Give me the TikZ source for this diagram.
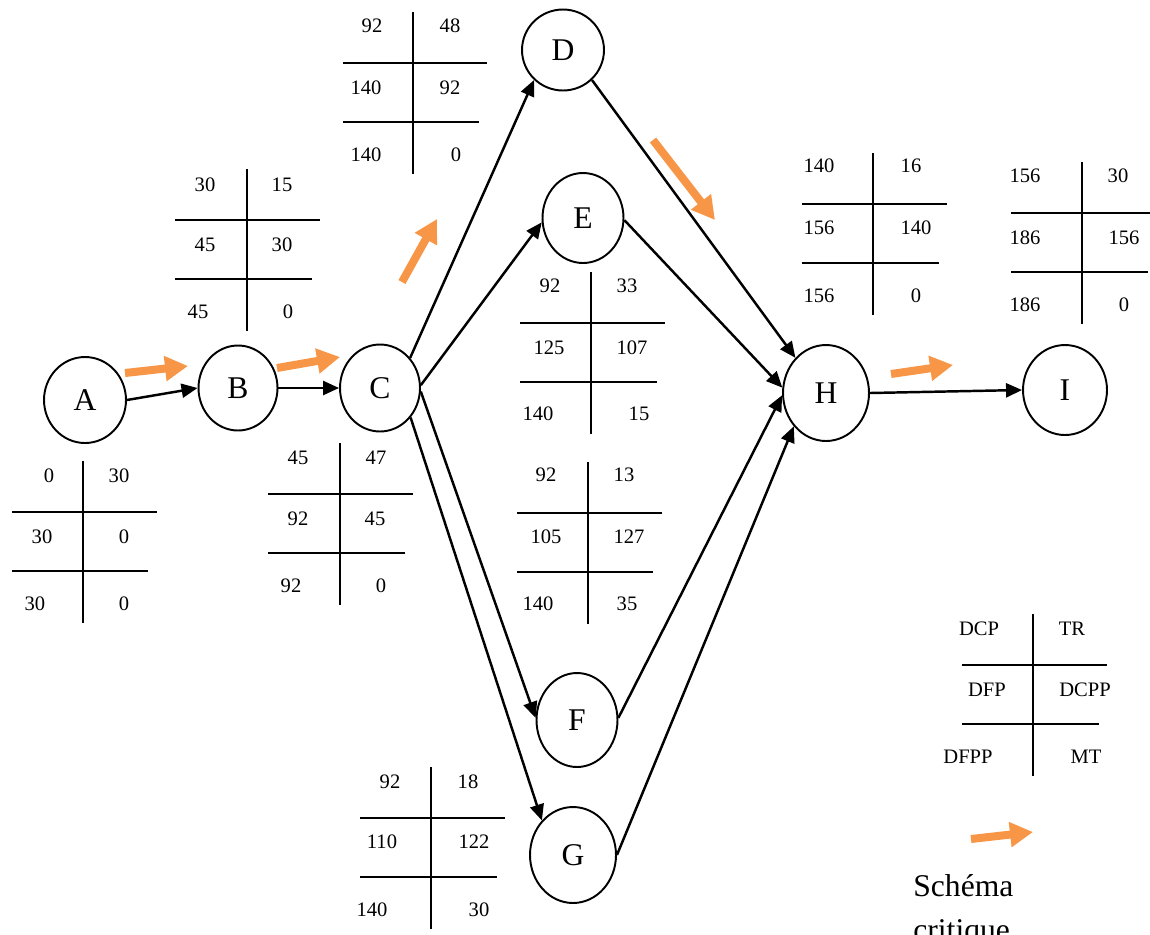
\documentclass[tikz,border=0pt]{standalone}
\usepackage{fontspec}
\setmainfont{Liberation Serif}
\usetikzlibrary{arrows.meta,shapes.geometric}
\definecolor{critorange}{RGB}{247,150,70}

% one CPM grid: vertical line at x=#1 starting at y=#2, horizontal lines from x=#3 to #4 and #5
\newcommand\grille[5]{%
  \draw[trait] (#1,#2) -- (#1,#2+162);
  \draw[trait] (#3,#2+51) -- (#4,#2+51);
  \draw[trait] (#3,#2+110) -- (#5,#2+110);
}

\begin{document}
\begin{tikzpicture}[x=0.02cm,y=-0.02cm,
  etat/.style={ellipse,draw,line width=1.1pt,inner sep=0pt,
    font=\fontsize{18}{20}\selectfont},
  lien/.style={line width=1.4pt,-{Triangle[length=0.32cm,width=0.28cm]}},
  crit/.style={critorange,line width=0.16cm,-{Triangle[length=0.46cm,width=0.48cm]}},
  trait/.style={line width=1.1pt},
  val/.style={inner sep=0pt,font=\fontsize{11.7}{14}\selectfont},
  legende/.style={inner sep=0pt,font=\fontsize{18}{20}\selectfont}]
\useasboundingbox (0,0) rectangle (1150,934);

% events
\node[etat,minimum width=1.64cm,minimum height=1.72cm] (A) at (85,400) {A};
\node[etat,minimum width=1.58cm,minimum height=1.70cm] (B) at (238,388) {B};
\node[etat,minimum width=1.60cm,minimum height=1.74cm] (C) at (380,388) {C};
\node[etat,minimum width=1.64cm,minimum height=1.62cm] (D) at (563,50) {D};
\node[etat,minimum width=1.62cm,minimum height=1.80cm] (E) at (583,218) {E};
\node[etat,minimum width=1.62cm,minimum height=1.88cm] (F) at (577,720) {F};
\node[etat,minimum width=1.72cm,minimum height=1.92cm] (G) at (573,855) {G};
\node[etat,minimum width=1.72cm,minimum height=1.92cm] (H) at (826,393) {H};
\node[etat,minimum width=1.68cm,minimum height=1.80cm] (I) at (1065,390) {I};

% activities
\draw[lien] (A.east) -- (B.west);
\draw[lien] (B.east) -- (C.west);
\draw[lien] (C.45) -- (D.226);
\draw[lien] (C.4) -- (E.186);
\draw[lien] (C.355) -- (F.177);
\draw[lien] (C.316) -- (G.132);
\draw[lien] (D.314) -- (H.131);
\draw[lien] (E.357) -- (H.173);
\draw[lien] (F.3) -- (H.183);
\draw[lien] (G.0) -- (H.226);
\draw[lien] (H.east) -- (I.west);

% critical path markers
\coordinate (c1a) at (125,373); \coordinate (c1b) at (188,366);
\coordinate (c2a) at (277,368); \coordinate (c2b) at (340,357);
\coordinate (c3a) at (402,282); \coordinate (c3b) at (437,219);
\coordinate (c4a) at (653,140); \coordinate (c4b) at (715,220);
\coordinate (c5a) at (891,374); \coordinate (c5b) at (953,365);
\coordinate (c6a) at (971,839); \coordinate (c6b) at (1033,832);
\draw[crit] (c1a) -- (c1b);
\draw[crit] (c2a) -- (c2b);
\draw[crit] (c3a) -- (c3b);
\draw[crit] (c4a) -- (c4b);
\draw[crit] (c5a) -- (c5b);
\draw[crit] (c6a) -- (c6b);

% grid of A
\grille{83}{461}{12}{157}{148}
\node[val] (a1) at (49,476) {0};
\node[val] (a2) at (119,476) {30};
\node[val] (a3) at (42,537) {30};
\node[val] (a4) at (124,537) {0};
\node[val] (a5) at (35,604) {30};
\node[val] (a6) at (124,604) {0};

% grid of B
\grille{247}{169}{175}{320}{312}
\node[val] (b1) at (205,185) {30};
\node[val] (b2) at (282,185) {15};
\node[val] (b3) at (205,245) {45};
\node[val] (b4) at (282,245) {30};
\node[val] (b5) at (198,312) {45};
\node[val] (b6) at (288,312) {0};

% grid of C
\grille{340}{443}{268}{413}{405}
\node[val] (cc1) at (298,458) {45};
\node[val] (cc2) at (376,458) {47};
\node[val] (cc3) at (298,519) {92};
\node[val] (cc4) at (375,519) {45};
\node[val] (cc5) at (291,586) {92};
\node[val] (cc6) at (381,586) {0};

% grid of D
\grille{413}{12}{343}{487}{479}
\node[val] (d1) at (372,26) {92};
\node[val] (d2) at (450,26) {48};
\node[val] (d3) at (366,88) {140};
\node[val] (d4) at (450,88) {92};
\node[val] (d5) at (366,155) {140};
\node[val] (d6) at (456,155) {0};

% grid of E
\grille{591}{272}{520}{665}{657}
\node[val] (e1) at (550,286) {92};
\node[val] (e2) at (627,286) {33};
\node[val] (e3) at (549,348) {125};
\node[val] (e4) at (632,348) {107};
\node[val] (e5) at (538,414) {140};
\node[val] (e6) at (639,414) {15};

% grid of F
\grille{588}{462}{517}{662}{653}
\node[val] (f1) at (546,475) {92};
\node[val] (f2) at (624,475) {13};
\node[val] (f3) at (546,537) {105};
\node[val] (f4) at (629,537) {127};
\node[val] (f5) at (538,604) {140};
\node[val] (f6) at (627,604) {35};

% grid of G
\grille{431}{767}{360}{505}{497}
\node[val] (g1) at (390,782) {92};
\node[val] (g2) at (468,782) {18};
\node[val] (g3) at (382,842) {110};
\node[val] (g4) at (474,842) {122};
\node[val] (g5) at (372,910) {140};
\node[val] (g6) at (479,910) {30};

% grid of H
\grille{873}{153}{802}{947}{939}
\node[val] (h1) at (819,166) {140};
\node[val] (h2) at (911,166) {16};
\node[val] (h3) at (819,228) {156};
\node[val] (h4) at (916,228) {140};
\node[val] (h5) at (819,296) {156};
\node[val] (h6) at (916,296) {0};

% grid of I
\grille{1082}{162}{1011}{1150}{1148}
\node[val] (i1) at (1025,176) {156};
\node[val] (i2) at (1118,176) {30};
\node[val] (i3) at (1025,238) {186};
\node[val] (i4) at (1124,238) {156};
\node[val] (i5) at (1025,305) {186};
\node[val] (i6) at (1124,305) {0};

% key
\grille{1033}{614}{962}{1107}{1099}
\node[val] (k1) at (979,629) {DCP};
\node[val] (k2) at (1072,629) {TR};
\node[val] (k3) at (987,690) {DFP};
\node[val] (k4) at (1085,690) {DCPP};
\node[val] (k5) at (968,757) {DFPP};
\node[val] (k6) at (1086,757) {MT};
\node[legende,anchor=base west] (k7) at (913,896) {Schéma};
\node[legende,anchor=base west] (k8) at (913,940) {critique};
\end{tikzpicture}
\end{document}
